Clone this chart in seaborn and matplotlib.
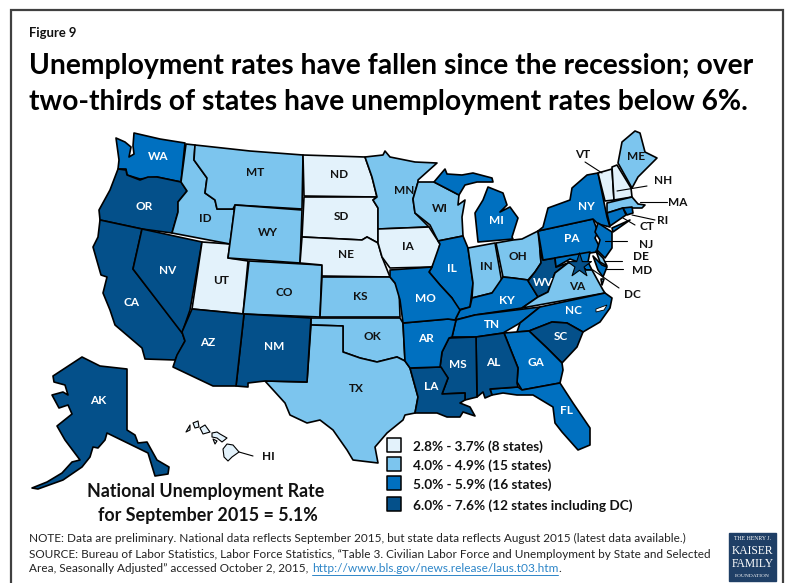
#!/usr/bin/env python3
"""Unemployment rate by state, September 2015 - choropleth traced from the figure."""
import matplotlib
matplotlib.use("Agg")
import matplotlib.pyplot as plt
import pandas as pd
import seaborn as sns

# state outlines, in picture pixels
WA = [(134,133),(160,139),(185,143),(181,182),(157,177),(148,178),(140,179),(127,175),(126,169),(118,169),(119,160),(116,138),(125,142),(131,147),(129,157),(134,154),(133,146)]
OR = [(118,169),(126,170),(127,175),(140,180),(148,177),(157,177),(181,182),(187,191),(178,202),(178,212),(172,233),(142,229),(100,220),(99,210),(110,190)]
CA = [(100,220),(142,229),(133,269),(182,332),(185,341),(175,360),(145,359),(142,348),(115,325),(110,310),(103,293),(107,277),(101,275),(93,247),(98,237)]
NV = [(142,229),(202,242),(190,310),(182,333),(133,269)]
UT = [(202,242),(230,244),(228,258),(248,261),(243,314),(192,309)]
ID = [(186,144),(195,145),(194,160),(207,178),(205,193),(215,200),(217,209),(233,209),(235,205),(230,244),(172,233),(178,212),(178,202),(187,191),(181,182)]
MT = [(195,145),(250,151),(303,155),(302,209),(235,205),(233,209),(217,209),(215,200),(205,193),(207,178),(194,160)]
WY = [(235,205),(302,210),(300,263),(228,258)]
CO = [(249,261),(322,265),(320,317),(243,314)]
ND = [(303,155),(365,157),(372,177),(377,197),(304,196)]
SD = [(304,197),(377,197),(373,200),(378,208),(378,243),(367,237),(362,240),(302,237)]
NE = [(302,237),(362,240),(367,237),(378,243),(382,257),(390,277),(322,276),(322,265),(300,263)]
KS = [(322,277),(390,277),(395,283),(399,288),(400,317),(320,317)]
OK = [(311,318),(400,318),(403,323),(405,361),(397,357),(377,362),(360,358),(343,352),(343,326),(311,325)]
TX = [(311,325),(343,326),(343,352),(360,358),(377,362),(397,357),(405,361),(410,368),(418,397),(415,413),(405,415),(403,420),(387,433),(375,447),(378,463),(353,460),(347,450),(333,430),(320,420),(307,423),(290,415),(285,403),(265,381),(307,382)]
NM = [(244,314),(311,318),(307,382),(265,381),(248,383),(248,387),(236,386)]
AZ = [(192,309),(244,314),(236,386),(213,386),(173,367),(177,355),(185,341),(182,332)]
AK = [(82,357),(100,366),(127,369),(127,430),(135,435),(138,443),(147,442),(157,460),(169,467),(168,474),(155,476),(148,453),(107,433),(105,440),(98,448),(93,447),(90,457),(82,467),(63,480),(38,489),(32,488),(47,482),(62,473),(72,462),(80,460),(65,440),(57,426),(72,414),(68,405),(59,408),(52,395),(63,392),(68,395),(65,385),(54,382),(53,376)]
HI_BIG = [(227,444),(233,445),(239,452),(232,457),(228,461),(224,457),(223,449)]
HI_MAUI = [(212,433),(217,432),(220,434),(227,438),(222,442),(217,438),(212,437)]
HI_OAHU = [(200,428),(205,425),(210,432),(203,434)]
HI_KAUAI = [(193,423),(198,421),(199,427),(195,428)]
HI_NIIHAU = [(186,432),(190,425),(190,430)]
HI_LANAI = [(213,439),(217,441),(215,444)]
MN = [(365,157),(383,155),(385,151),(390,157),(400,159),(415,162),(437,163),(418,180),(418,182),(413,199),(415,213),(429,227),(378,229),(378,208),(373,200),(377,197),(372,177)]
WI = [(418,182),(434,182),(459,195),(458,205),(465,200),(462,217),(463,236),(438,241),(430,225),(415,213),(413,199)]
MI_UP = [(434,182),(445,169),(447,174),(462,175),(473,173),(492,178),(493,182),(477,182),(465,185),(459,195)]
MI_LOW = [(478,242),(475,213),(483,200),(488,187),(503,193),(507,205),(500,212),(510,207),(518,218),(512,237),(513,239)]
IA = [(378,229),(429,227),(438,241),(440,244),(438,255),(432,267),(390,268),(382,257),(378,243)]
IL = [(438,241),(463,236),(468,248),(473,283),(470,307),(458,310),(452,298),(440,285),(429,272),(432,267),(440,244)]
IN = [(468,248),(495,243),(502,283),(492,293),(472,298),(473,283)]
OH = [(496,243),(513,240),(522,239),(538,231),(540,250),(541,263),(535,272),(528,280),(513,278),(503,277)]
KY = [(472,298),(492,293),(503,277),(513,278),(528,280),(538,297),(522,308),(475,315),(455,320),(460,310),(470,307)]
TN = [(456,320),(475,315),(540,307),(520,323),(503,333),(476,337),(452,337)]
WV = [(540,250),(543,260),(555,258),(556,267),(568,263),(555,273),(548,292),(538,297),(528,281),(535,272),(541,263)]
PA = [(538,231),(593,219),(598,232),(595,238),(600,248),(597,252),(555,258),(543,260)]
NY = [(543,227),(548,208),(570,200),(572,188),(587,175),(598,173),(607,217),(610,227),(598,224),(593,219),(538,231)]
NY_LI = [(612,228),(630,220),(613,232)]
VT = [(598,173),(612,169),(614,200),(605,201)]
NH = [(612,167),(617,165),(631,188),(632,197),(614,200)]
ME = [(618,163),(622,142),(635,131),(640,133),(645,152),(657,158),(650,165),(638,177),(632,188)]
MA = [(607,203),(632,197),(638,204),(645,205),(642,208),(635,208),(623,208),(607,213)]
CT = [(607,213),(623,208),(626,215),(610,226)]
RI = [(623,208),(632,207),(633,213),(627,215)]
NJ = [(598,223),(612,232),(612,248),(605,258),(597,250),(600,240),(595,232)]
DE = [(596,251),(603,258),(607,266),(600,262)]
MD = [(555,258),(590,252),(588,262),(592,270),(586,270),(578,262),(570,259),(556,267)]
MD_EAST = [(593,256),(602,265),(607,267),(603,277),(598,270)]
VA = [(522,308),(538,297),(548,292),(555,273),(568,263),(578,262),(586,270),(592,270),(603,290),(605,293)]
VA_TIP = [(601,279),(604,279),(602,285)]
NC = [(517,332),(520,323),(540,307),(605,293),(612,298),(610,308),(600,322),(583,332),(567,323),(552,322),(529,331)]
NC_SOUND = [(596,309),(607,305),(604,310),(596,312)]
SC = [(529,331),(552,322),(567,323),(583,332),(577,347),(562,363),(547,348)]
GA = [(504,333),(529,331),(547,348),(562,363),(563,370),(560,383),(522,390),(517,382),(518,368)]
FL = [(490,389),(518,387),(522,390),(560,383),(573,403),(590,428),(590,445),(578,450),(562,432),(555,423),(553,407),(533,395),(517,395),(503,393),(492,395)]
AL = [(476,337),(504,333),(518,368),(517,383),(518,387),(490,389),(492,395),(485,398),(483,392),(477,397)]
MS = [(449,338),(476,337),(477,397),(465,400),(465,393),(442,394),(448,378),(440,367),(442,352)]
LA = [(410,368),(441,367),(448,378),(442,394),(465,393),(465,400),(460,403),(470,407),(475,416),(463,412),(460,417),(447,417),(437,413),(415,413),(418,397)]
AR = [(403,323),(448,319),(456,320),(452,337),(449,338),(442,352),(440,367),(410,368),(405,361)]
MO = [(390,270),(432,267),(429,272),(440,285),(452,298),(460,310),(455,320),(448,319),(403,323),(400,300),(395,283),(390,277)]

TIER_LOW = ["ND", "SD", "NE", "IA", "UT", "VT", "NH", "HI"]
TIER_MID = ["ID", "MT", "WY", "CO", "KS", "OK", "TX", "MN", "WI", "IN", "OH", "VA", "ME", "MA", "DE"]
TIER_HIGH = ["WA", "MI", "IL", "MO", "KY", "AR", "TN", "NC", "GA", "FL", "NY", "PA", "NJ", "CT", "RI", "MD"]
TIER_TOP = ["OR", "CA", "NV", "AZ", "NM", "AK", "LA", "MS", "AL", "SC", "WV", "DC"]

TIER_COLORS = ["#E3F2FB", "#7CC5EE", "#0070C0", "#04508A"]
LEGEND_LABELS = ["2.8% - 3.7% (8 states)", "4.0% - 4.9% (15 states)", "5.0% - 5.9% (16 states)", "6.0% - 7.6% (12 states including DC)"]

SHAPES = {
    "WA": [WA], "OR": [OR], "CA": [CA], "NV": [NV], "UT": [UT], "ID": [ID], "MT": [MT], "WY": [WY], "CO": [CO],
    "ND": [ND], "SD": [SD], "NE": [NE], "KS": [KS], "OK": [OK], "TX": [TX], "NM": [NM], "AZ": [AZ], "AK": [AK],
    "HI": [HI_BIG, HI_MAUI, HI_OAHU, HI_KAUAI, HI_NIIHAU, HI_LANAI], "MN": [MN], "WI": [WI], "MI": [MI_UP, MI_LOW],
    "IA": [IA], "IL": [IL], "IN": [IN], "OH": [OH], "KY": [KY], "TN": [TN], "WV": [WV], "PA": [PA], "NY": [NY, NY_LI],
    "VT": [VT], "NH": [NH], "ME": [ME], "MA": [MA], "CT": [CT], "RI": [RI], "NJ": [NJ], "MD": [MD, MD_EAST], "DE": [DE],
    "VA": [VA, VA_TIP], "NC": [NC], "SC": [SC], "GA": [GA], "FL": [FL], "AL": [AL], "MS": [MS], "LA": [LA], "AR": [AR], "MO": [MO],
}

# label centres, dark tiers get white text
LABELS_INSIDE = {
    "WA": (158,156), "MT": (255,172), "ND": (339,175), "ME": (636,157), "MN": (404,191), "WI": (440,208), "MI": (496,221),
    "NY": (586,206), "PA": (572,239), "OH": (518,257), "IN": (486,267), "IL": (452,268), "IA": (408,247), "NE": (346,255),
    "SD": (341,217), "ID": (205,218), "OR": (144,207), "WY": (268,232), "UT": (221,281), "CO": (284,292), "NV": (168,270),
    "CA": (132,303), "KS": (360,296), "MO": (425,299), "KY": (507,300), "WV": (543,282), "VA": (577,286), "NC": (574,311),
    "TN": (492,324), "AR": (426,338), "OK": (372,337), "TX": (356,389), "AZ": (208,343), "NM": (274,346), "AK": (98,400),
    "LA": (431,386), "MS": (458,364), "AL": (493,363), "GA": (536,362), "SC": (561,336), "FL": (567,411),
}
LABELS_OUTSIDE = {
    "VT": ((583,155), (585,162), (602,173)), "NH": ((663,181), (647,186), (617,191)), "MA": ((678,202), (667,202), (640,202)),
    "RI": ((663,221), (655,220), (632,215)), "CT": ((647,227), (635,225), (623,218)), "NJ": ((646,244), (627,241), (605,241)),
    "DE": ((641,257), (622,261), (605,261)), "MD": ((642,270), (623,269), (605,269)), "DC": ((632,294), (619,288), (593,270)),
    "HI": ((268,456), (253,456), (239,452)),
}

sns.set_theme(style="white")
plt.rcParams["font.family"] = ["Lato", "DejaVu Sans"]

tiers = pd.DataFrame({
    "state": TIER_LOW + TIER_MID + TIER_HIGH + TIER_TOP,
    "tier": [0] * len(TIER_LOW) + [1] * len(TIER_MID) + [2] * len(TIER_HIGH) + [3] * len(TIER_TOP),
}).set_index("state")

fig = plt.figure(figsize=(7.89, 5.83), dpi=100)
ax = fig.add_axes([0, 0, 1, 1])
ax.axis("off")

# frame runs off the bottom of the picture
ax.plot([11.5, 11.5, 783, 783], [590, 10, 10, 590], color="#404040", lw=1.6, solid_joinstyle="miter")

for state, parts in SHAPES.items():
    color = TIER_COLORS[tiers.loc[state, "tier"]]
    lw = 0.8 if state == "HI" else 1.2
    for part in parts:
        ax.fill(*zip(*part), facecolor=color, edgecolor="black", lw=lw, joinstyle="round")
ax.fill(*zip(*NC_SOUND), facecolor="white", edgecolor="black", lw=0.6)

# DC star on top of MD/VA
ax.scatter([579], [265], marker="*", s=330, color=TIER_COLORS[3], edgecolor="black", lw=0.8, zorder=4)

for state, (x, y) in LABELS_INSIDE.items():
    color = "white" if tiers.loc[state, "tier"] >= 2 else "#111111"
    ax.text(x, y, state, color=color, fontsize=8.5, fontweight="bold", ha="center", va="center", zorder=5)

for state, (pos, start, end) in LABELS_OUTSIDE.items():
    ax.plot([start[0], end[0]], [start[1], end[1]], color="black", lw=0.8, zorder=4)
    ax.text(pos[0], pos[1], state, color="#111111", fontsize=8.5, fontweight="bold", ha="center", va="center", zorder=5)

# legend swatches
legend_df = pd.DataFrame({"x": [394] * 4, "y": [445, 464, 483, 504], "label": LEGEND_LABELS})
sns.scatterplot(data=legend_df, x="x", y="y", hue="label", palette=TIER_COLORS, marker="s", s=105,
                edgecolor="black", linewidth=1.1, legend=False, ax=ax, zorder=5)
ax.set_xlim(0, 789)
ax.set_ylim(583, 0)
ax.axis("off")
for y, label in zip(legend_df["y"], LEGEND_LABELS):
    ax.text(413, y + 2, label, fontsize=9.8, fontweight="bold", color="#111111", va="center")

ax.text(29, 33, "Figure 9", fontsize=9.4, fontweight="bold", color="#111111", va="center")
ax.text(29, 74, "Unemployment rates have fallen since the recession; over", fontsize=20.3, fontweight="bold", color="black", va="baseline")
ax.text(29, 110, "two-thirds of states have unemployment rates below 6%.", fontsize=20.3, fontweight="bold", color="black", va="baseline")

ax.text(206, 492, "National Unemployment Rate", fontsize=12.9, fontweight="bold", color="#111111", ha="center", va="center")
ax.text(208, 515, "for September 2015 = 5.1%", fontsize=12.9, fontweight="bold", color="#111111", ha="center", va="center")

ax.text(29, 538, "NOTE: Data are preliminary. National data reflects September 2015, but state data reflects August 2015 (latest data available.)", fontsize=8.5, color="#222222", va="center")
ax.text(29, 554, "SOURCE: Bureau of Labor Statistics, Labor Force Statistics, \u201cTable 3. Civilian Labor Force and Unemployment by State and Selected", fontsize=8.5, color="#222222", va="center")
ax.text(29, 569, "Area, Seasonally Adjusted\u201d accessed October 2, 2015,", fontsize=8.5, color="#222222", va="center")
ax.text(312, 569, "http://www.bls.gov/news.release/laus.t03.htm", fontsize=8.6, color="#2E86C8", va="center")
ax.plot([312, 558], [575, 575], color="#2E86C8", lw=0.7)
ax.text(558, 569, ".", fontsize=8.5, color="#222222", va="center")

# logo block
ax.fill([729, 776, 776, 729], [533, 533, 581, 581], color="#1F3F66", zorder=3)
logo_lines = [("THE HENRY J.", 539, 4.2), ("KAISER", 551, 8.4), ("FAMILY", 564, 8.4), ("FOUNDATION", 576, 3.9)]
for text, y, size in logo_lines:
    ax.text(752.5, y, text, fontsize=size, family="Liberation Serif", color="white", ha="center", va="center", zorder=4)

plt.savefig("out.png", dpi=100)
plt.close()
